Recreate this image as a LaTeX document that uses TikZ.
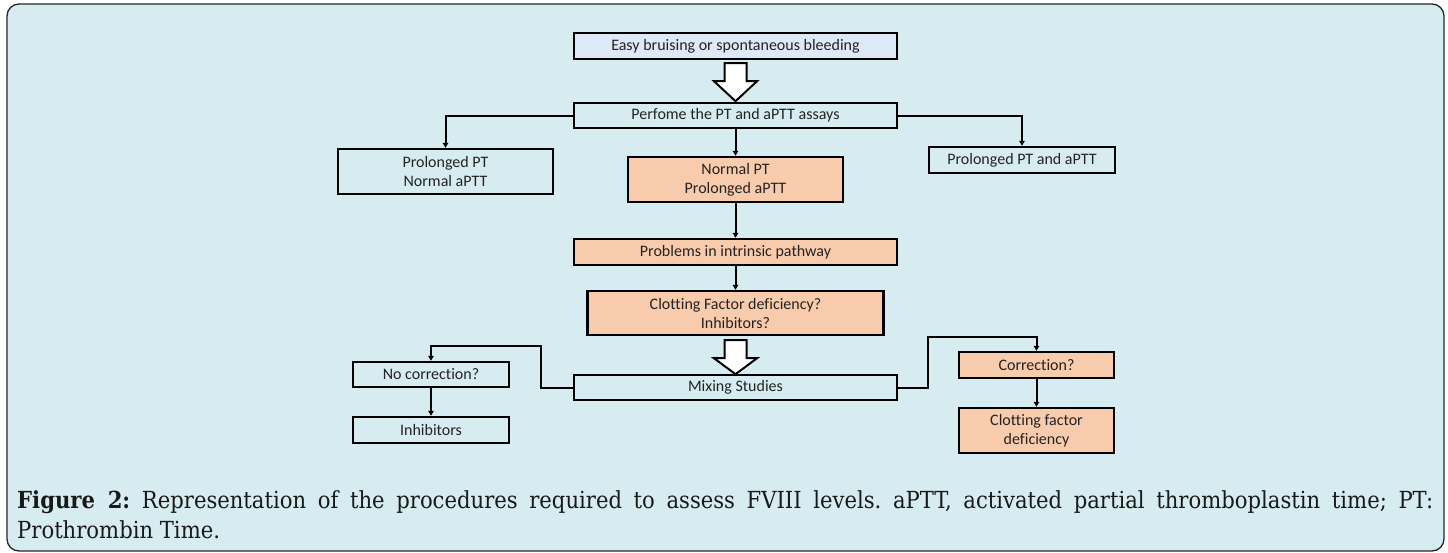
\documentclass[tikz,border=0pt]{standalone}
\usepackage{fontspec}
\setmainfont{Carlito}[Ligatures=NoCommon]
\newfontfamily\capfont{DejaVu Serif Condensed}
\usetikzlibrary{arrows.meta,calc}
\definecolor{bg}{RGB}{215,236,241}
\definecolor{lightbox}{RGB}{221,233,246}
\definecolor{peach}{RGB}{248,203,172}
\definecolor{txt}{RGB}{35,35,35}
\definecolor{captxt}{RGB}{25,25,25}
\begin{document}
\begin{tikzpicture}[x=1pt,y=-1pt,
  box/.style 2 args={draw=black, line width=2.4pt, minimum width=#1, minimum height=#2,
    inner sep=0pt, align=center, text=txt, font=\fontsize{16}{19}\selectfont},
  plain/.style={fill=bg},
  blue/.style={fill=lightbox},
  orange/.style={fill=peach},
  conn/.style={draw=black, line width=2pt, -{Triangle[length=5pt,width=5.5pt]}},
  hollow/.style={draw=black, line width=2pt, fill=white, line join=miter}
]
\useasboundingbox (0,0) rectangle (1448,552);
\fill[white] (0,0) rectangle (1448,552);
\draw[rounded corners=12pt, fill=bg, draw=black!85, line width=1.3pt] (7,4) rectangle (1444,551);

% boxes
\node[box={323}{26}, blue]   (easy)   at (735.5,46)    {Easy bruising or spontaneous bleeding};
\node[box={323}{25}, plain]  (perf)   at (735.5,115.5) {Perfome the PT and aPTT assays};
\node[box={215}{45}, plain]  (pplong) at (445.5,171.5) {Prolonged PT\\Normal aPTT};
\node[box={215}{45}, orange] (npt)    at (735.5,179.5) {Normal PT\\Prolonged aPTT};
\node[box={186}{26}, plain]  (pboth)  at (1022,160)    {Prolonged PT and aPTT};
\node[box={323}{26}, orange] (prob)   at (735.5,252)   {Problems in intrinsic pathway};
\node[box={296}{44}, orange] (clot)   at (735.5,313)   {Clotting Factor deficiency?\\Inhibitors?};
\node[box={323}{25}, plain]  (mix)    at (735.5,387.5) {Mixing Studies};
\node[box={156}{25}, plain]  (nocorr) at (431,374.5)   {No correction?};
\node[box={156}{26}, plain]  (inhib)  at (431,430)     {Inhibitors};
\node[box={155}{26}, orange] (corr)   at (1036.5,365)  {Correction?};
\node[box={155}{45}, orange] (cfd)    at (1036.5,430.5){Clotting factor\\deficiency};

% hollow arrows
\coordinate (ha1) at ($(easy.south)+(0,3)$);
\draw[hollow, shift={(ha1)}] (-11,0) -- (11,0) -- (11,18) -- (21.5,18) -- (0,38) -- (-21.5,18) -- (-11,18) -- cycle;
\coordinate (ha2) at ($(clot.south)+(0,4)$);
\draw[hollow, shift={(ha2)}] (-11,0) -- (11,0) -- (11,18) -- (21.5,18) -- (0,34) -- (-21.5,18) -- (-11,18) -- cycle;

% connectors
\draw[conn] (perf.west |- perf.center) -| (pplong.north);
\draw[conn] (perf.east |- perf.center) -| (pboth.north);
\draw[conn] (perf.south) -- (npt.north);
\draw[conn] (npt.south) -- (prob.north);
\draw[conn] (prob.south) -- (clot.north);

\coordinate (ml) at (541,388);
\coordinate (mr) at (928,388);
\draw[conn] (mix.west |- ml) -- (ml) -- (ml |- 0,346) -| (nocorr.north);
\draw[conn] (mix.east |- mr) -- (mr) -- (mr |- 0,337) -| (corr.north);
\draw[conn] (nocorr.south) -- (inhib.north);
\draw[conn] (corr.south) -- (cfd.north);

% caption
\node[anchor=base west, inner sep=0pt, text=captxt, font=\capfont\fontsize{23.5}{30}\selectfont\frenchspacing] (cap1) at (17,508)
  {\makebox[1416pt][s]{\textbf{Figure 2:} Representation of the procedures required to assess FVIII levels. aPTT, activated partial thromboplastin time; PT:}};
\node[anchor=base west, inner sep=0pt, text=captxt, font=\capfont\fontsize{23.5}{30}\selectfont] (cap2) at (17,538)
  {Prothrombin Time.};
\end{tikzpicture}
\end{document}
